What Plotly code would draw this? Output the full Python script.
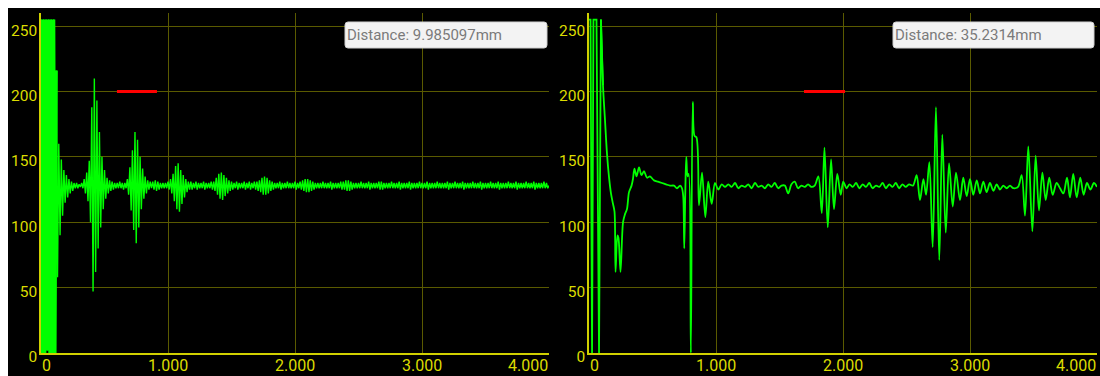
import plotly.graph_objects as go

# ---------------------------------------------------------------- data
# Left scope: raw A-scan samples, one sample every LEFT_STEP (x axis units)
LEFT_STEP = 0.01
LEFT_Y = [
    255, 0, 255, 0, 255, 2, 255, 0, 255, 0, 255, 0, 216, 58, 160, 90, 148, 105, 140, 115,
    136, 119, 133, 122, 131, 124, 130, 126, 130, 126, 129, 127, 130, 126, 133, 122, 138, 116, 147, 100,
    188, 47, 210, 62, 193, 80, 169, 96, 150, 110, 140, 118, 134, 122, 132, 124, 131, 125, 130, 126,
    130, 126, 131, 126, 130, 125, 130, 126, 133, 121, 142, 109, 155, 94, 169, 84, 163, 96, 150, 110,
    141, 118, 135, 122, 132, 125, 131, 126, 131, 125, 132, 124, 131, 125, 130, 126, 130, 126, 130, 126,
    131, 125, 133, 122, 137, 116, 143, 110, 145, 108, 140, 114, 136, 119, 133, 123, 131, 125, 131, 125,
    130, 126, 131, 125, 130, 126, 130, 126, 131, 125, 130, 126, 130, 126, 131, 125, 131, 124, 134, 121,
    137, 118, 138, 117, 136, 120, 134, 122, 132, 124, 131, 125, 130, 126, 131, 125, 130, 126, 130, 126,
    131, 125, 130, 126, 131, 125, 130, 126, 131, 125, 131, 124, 132, 123, 134, 121, 135, 121, 134, 122,
    132, 124, 131, 125, 130, 126, 130, 126, 131, 125, 130, 126, 130, 126, 131, 126, 130, 126, 130, 126,
    131, 125, 130, 126, 131, 125, 132, 124, 133, 123, 133, 123, 132, 124, 131, 125, 130, 126, 130, 126,
    130, 126, 131, 126, 130, 126, 130, 126, 131, 125, 130, 126, 130, 126, 130, 126, 131, 125, 131, 125,
    132, 124, 132, 124, 131, 125, 130, 126, 130, 126, 130, 126, 131, 126, 130, 126, 130, 126, 131, 125,
    130, 126, 130, 126, 130, 126, 131, 125, 131, 125, 130, 126, 130, 126, 130, 126, 131, 126, 130, 126,
    130, 126, 131, 125, 130, 126, 130, 126, 130, 126, 131, 125, 130, 126, 130, 126, 130, 126, 131, 126,
    130, 126, 130, 126, 131, 125, 130, 126, 130, 126, 130, 126, 131, 126, 130, 126, 130, 126, 130, 126,
    131, 125, 130, 126, 130, 126, 131, 126, 130, 126, 130, 126, 131, 125, 130, 126, 130, 126, 130, 126,
    131, 126, 130, 126, 130, 126, 131, 125, 130, 126, 130, 126, 130, 126, 131, 126, 130, 126, 130, 126,
    131, 125, 130, 126, 130, 126, 130, 126, 131, 126, 130, 126, 130, 126, 131, 125, 130, 126, 130, 126,
    130, 126, 131, 126, 130, 126, 130, 126, 131, 125, 130, 126, 130, 126, 130, 126, 131, 126, 130, 126,
    128,
]
# samples of the saturated transmit burst at the start of the left trace
LEFT_BURST_END = 12

# Right scope: sampled trace (x in axis units, y in ADC counts)
RIGHT_X = [
    0.000, 0.012, 0.024, 0.035, 0.059, 0.079, 0.094, 0.110, 0.126, 0.142,
    0.157, 0.173, 0.189, 0.201, 0.209, 0.224, 0.232, 0.248, 0.268, 0.283,
    0.299, 0.315, 0.335, 0.346, 0.358, 0.374, 0.394, 0.413, 0.433, 0.457,
    0.480, 0.512, 0.543, 0.575, 0.606, 0.638, 0.669, 0.693, 0.717, 0.732,
    0.742, 0.750, 0.758, 0.766, 0.776, 0.785, 0.802, 0.817, 0.831, 0.846,
    0.866, 0.890, 0.916, 0.939, 0.966, 0.992, 1.018, 1.045,
    1.071, 1.097, 1.123, 1.150, 1.176, 1.202, 1.228, 1.254, 1.280, 1.307,
    1.333, 1.359, 1.385, 1.411, 1.437, 1.463, 1.490, 1.516, 1.542, 1.568,
    1.594, 1.620, 1.646, 1.673, 1.699, 1.725, 1.751, 1.777,
    1.806, 1.833, 1.854, 1.880, 1.906, 1.929, 1.955, 1.982, 2.002, 2.028, 2.051,
    2.077, 2.103, 2.129, 2.155, 2.181, 2.207, 2.233, 2.260, 2.286, 2.312,
    2.338, 2.364, 2.390, 2.416, 2.442, 2.468, 2.494, 2.520, 2.551,
    2.580, 2.606, 2.633, 2.654, 2.680, 2.706, 2.732, 2.758, 2.782, 2.809,
    2.835, 2.864, 2.890, 2.921, 2.947, 2.974, 3.000, 3.026, 3.053, 3.079,
    3.105, 3.131, 3.157, 3.184, 3.210, 3.236, 3.262, 3.289, 3.315, 3.341, 3.378,
    3.407, 3.433, 3.459, 3.491, 3.517, 3.543, 3.570, 3.596, 3.624, 3.651,
    3.682, 3.709, 3.735, 3.764, 3.787, 3.813, 3.840, 3.868, 3.895, 3.921,
    3.948, 3.976, 4.000,
]
RIGHT_Y = [
    255, 255, 0, 255, 255, 0, 255, 205, 178, 152,
    135, 122, 114, 108, 62, 90, 88, 62, 100, 106,
    110, 123, 128, 133, 141, 135, 142, 136, 139, 134,
    135, 132, 131, 130, 129, 128, 128, 126, 128, 126,
    120, 80, 122, 150, 135, 137, 0, 192, 166, 165,
    113, 138, 104, 131, 114, 130, 125, 129,
    127, 129, 127, 130, 126, 128, 127, 129, 126, 130,
    127, 128, 126, 129, 127, 130, 126, 128, 128, 122,
    129, 131, 126, 128, 127, 129, 127, 128,
    135, 107, 157, 96, 148, 110, 137, 121, 131, 126, 129,
    127, 130, 126, 129, 127, 130, 126, 128, 127, 130,
    126, 129, 127, 130, 126, 129, 127, 129, 128,
    136, 117, 133, 121, 146, 81, 188, 71, 167, 92,
    145, 112, 138, 117, 134, 120, 133, 121, 132, 122,
    131, 123, 130, 124, 129, 125, 128, 126, 128, 126, 127,
    136, 105, 158, 93, 151, 109, 138, 117, 134, 121,
    130, 126, 122, 134, 119, 137, 119, 134, 121, 130,
    125, 130, 127,
]
# the first samples are the saturated transmit burst (drawn with straight segments)
RIGHT_BURST_END = 7

# Gate markers (red bars) and readouts
GATE_START = [0.598, 1.693]
GATE_END = [0.913, 2.016]
GATE_LEVEL = [200, 200]
DISTANCE_TEXT = ["Distance: 9.985097mm", "Distance: 35.2314mm"]

X_TICKS = [0, 1, 2, 3, 4]
X_TICK_TEXT = ["0", "1.000", "2.000", "3.000", "4.000"]
Y_TICKS = [0, 50, 100, 150, 200, 250]
Y_TICK_TEXT = ["0", "50", "100", "150", "200", "250"]

# ---------------------------------------------------------------- style
W, H = 1100, 376
TRACE = "#00ff00"
YELLOW = "#dcdc00"
AXIS_LINE = "#d0d000"
GRID = "#5a5a00"
FONT = "Roboto"


def fx(p):
    return p / W


def fy(p):
    return 1 - p / H


def rounded_box(x0, y0, x1, y1, r=3):
    """SVG path (paper coords) for a rounded rectangle given in pixels."""
    X = lambda v: f"{fx(v):.5f}"
    Y = lambda v: f"{fy(v):.5f}"
    return " ".join([
        f"M {X(x0 + r)},{Y(y0)}",
        f"L {X(x1 - r)},{Y(y0)}",
        f"Q {X(x1)},{Y(y0)} {X(x1)},{Y(y0 + r)}",
        f"L {X(x1)},{Y(y1 - r)}",
        f"Q {X(x1)},{Y(y1)} {X(x1 - r)},{Y(y1)}",
        f"L {X(x0 + r)},{Y(y1)}",
        f"Q {X(x0)},{Y(y1)} {X(x0)},{Y(y1 - r)}",
        f"L {X(x0)},{Y(y0 + r)}",
        f"Q {X(x0)},{Y(y0)} {X(x0 + r)},{Y(y0)} Z",
    ])


fig = go.Figure()

# left: saturated burst drawn heavier so it reads as a solid block
fig.add_trace(go.Scatter(
    x0=0, dx=LEFT_STEP, y=LEFT_Y[:LEFT_BURST_END + 1], mode="lines",
    line=dict(color=TRACE, width=3.2, simplify=False),
    xaxis="x", yaxis="y", hoverinfo="skip",
))
fig.add_trace(go.Scatter(
    x0=0, dx=LEFT_STEP, y=LEFT_Y, mode="lines",
    line=dict(color=TRACE, width=1.4, simplify=False),
    xaxis="x", yaxis="y", hoverinfo="skip",
))
# right: transmit burst with straight segments
fig.add_trace(go.Scatter(
    x=RIGHT_X[:RIGHT_BURST_END + 1], y=RIGHT_Y[:RIGHT_BURST_END + 1], mode="lines",
    line=dict(color=TRACE, width=1.8, simplify=False),
    xaxis="x2", yaxis="y2", hoverinfo="skip",
))
# rest of the right trace: smooth curve
fig.add_trace(go.Scatter(
    x=RIGHT_X[RIGHT_BURST_END - 1:], y=RIGHT_Y[RIGHT_BURST_END - 1:], mode="lines",
    line=dict(color=TRACE, width=1.8, shape="spline", smoothing=0.9, simplify=False),
    xaxis="x2", yaxis="y2", hoverinfo="skip",
))

for i, (xa, ya) in enumerate([("x", "y"), ("x2", "y2")]):
    fig.add_trace(go.Scatter(
        x=[GATE_START[i], GATE_END[i]], y=[GATE_LEVEL[i], GATE_LEVEL[i]],
        mode="lines", line=dict(color="#ff0000", width=3),
        xaxis=xa, yaxis=ya, hoverinfo="skip",
    ))

x_common = dict(
    range=[0, 4], tickvals=X_TICKS, showticklabels=False,
    showgrid=True, gridcolor=GRID, gridwidth=1,
    showline=True, linecolor=AXIS_LINE, linewidth=1.5,
    zeroline=False, ticks="", fixedrange=True, automargin=False,
)
y_common = dict(
    range=[0, 260], tickvals=Y_TICKS, ticktext=Y_TICK_TEXT,
    tickfont=dict(family=FONT, size=15.5, color=YELLOW),
    showgrid=True, gridcolor=GRID, gridwidth=1,
    showline=True, linecolor=AXIS_LINE, linewidth=1.5,
    zeroline=False, ticks="", ticklabelshift=4, ticklabelstandoff=-1,
    domain=[fy(353), fy(13)], fixedrange=True, automargin=False,
)

fig.update_layout(
    width=W, height=H, autosize=False,
    margin=dict(l=0, r=0, t=0, b=0, pad=0, autoexpand=False),
    paper_bgcolor="white", plot_bgcolor="black",
    showlegend=False,
    xaxis=dict(domain=[fx(41), fx(549)], anchor="y", **x_common),
    yaxis=dict(anchor="x", **y_common),
    xaxis2=dict(domain=[fx(589), fx(1097)], anchor="y2", **x_common),
    yaxis2=dict(anchor="x2", **y_common),
)

shapes = [dict(
    type="rect", xref="paper", yref="paper",
    x0=fx(8), x1=1, y0=0, y1=fy(8),
    fillcolor="black", line=dict(width=0), layer="below",
)]
annotations = []

# x tick labels: first label kept inside the axis start, last inside the end
for xa in ["x", "x2"]:
    for j, (v, t) in enumerate(zip(X_TICKS, X_TICK_TEXT)):
        anchor = "left" if j == 0 else ("right" if j == len(X_TICKS) - 1 else "center")
        annotations.append(dict(
            x=v, xref=xa, y=0, yref="paper",
            text=t, showarrow=False, xanchor=anchor, yanchor="bottom",
            font=dict(family=FONT, size=16, color=YELLOW), borderpad=0,
        ))

# distance readouts
for (bx0, bx1), txt in zip([(345, 547), (893, 1094)], DISTANCE_TEXT):
    shapes.append(dict(
        type="path", xref="paper", yref="paper",
        path=rounded_box(bx0, 22, bx1, 48),
        fillcolor="#f3f3f3", line=dict(color="#cfcfcf", width=1), layer="above",
    ))
    annotations.append(dict(
        x=fx(bx0 + 0.5), xref="paper", y=fy(35), yref="paper",
        text=txt, showarrow=False, xanchor="left", yanchor="middle",
        font=dict(family=FONT, size=15, color="#7a7a7a"), borderpad=0,
    ))

fig.update_layout(shapes=shapes, annotations=annotations)

fig.write_html("out.html")
